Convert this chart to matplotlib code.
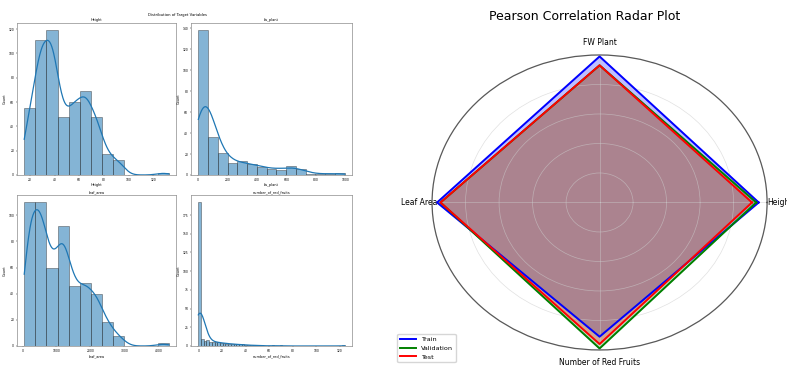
import numpy as np
import matplotlib
matplotlib.use('Agg')
import matplotlib.pyplot as plt

# ---- left panel: distribution of target variables (histogram counts per bin) ----
height_edges = np.linspace(15.4, 132.6, 14)
height_counts = [55, 111, 119, 48, 60, 69, 48, 17, 12, 0, 0, 0, 2]

fw_edges = np.linspace(2, 997, 16)
fw_counts = [138, 36, 21, 11, 13, 10, 8, 6, 5, 9, 6, 1, 1, 1, 2]

leaf_edges = np.linspace(50, 4307, 14)
leaf_counts = [110, 110, 60, 92, 46, 48, 40, 18, 8, 0, 0, 0, 2]

fruit_edges = np.linspace(0, 124, 55)
fruit_counts = [192, 10, 7, 8, 6, 6, 5, 5, 4, 4, 3, 3, 3, 2, 2, 2, 2, 1,
                1, 1, 1, 1, 0, 1, 0, 0, 0, 1, 0, 0, 1, 0, 0, 0, 0, 0,
                0, 0, 0, 0, 0, 0, 0, 0, 0, 0, 0, 0, 0, 0, 0, 0, 0, 1]

hist_names = ['Height', 'fw_plant', 'leaf_area', 'number_of_red_fruits']
hist_xticks = [[20, 40, 60, 80, 100, 120], [0, 200, 400, 600, 800, 1000],
               [0, 1000, 2000, 3000, 4000], [0, 20, 40, 60, 80, 100, 120]]
hist_yticks = [[0, 20, 40, 60, 80, 100, 120], [0, 20, 40, 60, 80, 100, 120, 140],
               [0, 20, 40, 60, 80, 100], [0, 25, 50, 75, 100, 125, 150, 175]]

# ---- right panel: pearson correlation radar ----
categories = ['Height', 'FW Plant', 'Leaf Area', 'Number of Red Fruits']
train = [0.95, 0.99, 0.97, 0.91]
validation = [0.935, 0.93, 0.95, 0.99]
test = [0.91, 0.93, 0.95, 0.96]


def kde_counts(edges, counts, x):
    # weighted gaussian kde (scott) on bin centres, scaled to counts
    c = (edges[:-1] + edges[1:]) / 2
    w = np.array(counts, dtype=float)
    n = w.sum()
    mu = (c * w).sum() / n
    sd = np.sqrt(((c - mu) ** 2 * w).sum() / n)
    h = sd * n ** (-0.2)
    d = (w[None, :] * np.exp(-0.5 * ((x[:, None] - c[None, :]) / h) ** 2)).sum(1)
    d = d / (n * h * np.sqrt(2 * np.pi))
    return d * n * (edges[1] - edges[0])


fig = plt.figure(figsize=(7.87, 3.68), dpi=100)

boxes = [[0.0216, 0.5245, 0.202, 0.413], [0.2427, 0.5245, 0.2046, 0.413],
         [0.0216, 0.0598, 0.202, 0.410], [0.2427, 0.0598, 0.2046, 0.410]]
all_edges = [height_edges, fw_edges, leaf_edges, fruit_edges]
all_counts = [height_counts, fw_counts, leaf_counts, fruit_counts]

fs = 2.5
for i in range(4):
    ax = fig.add_axes(boxes[i])
    e = all_edges[i]
    cts = all_counts[i]
    centers = (e[:-1] + e[1:]) / 2
    ax.hist(centers, bins=e, weights=cts, color='#1f77b4', alpha=0.55,
            edgecolor='#222222', linewidth=0.5)
    xs = np.linspace(e[0], e[-1], 300)
    ax.plot(xs, kde_counts(e, cts, xs), color='#1f77b4', lw=0.9)
    ax.set_xticks(hist_xticks[i])
    ax.set_yticks(hist_yticks[i])
    ax.set_ylim(0, max(cts) * 1.05)
    ax.set_title(hist_names[i], fontsize=fs, pad=1.5)
    ax.set_xlabel(hist_names[i], fontsize=fs, labelpad=1)
    ax.set_ylabel('Count', fontsize=fs, labelpad=1)
    ax.tick_params(labelsize=fs - 0.3, length=1, width=0.3, pad=1)
    for s in ax.spines.values():
        s.set_color('0.55')
        s.set_linewidth(0.5)

fig.text(178 / 787, 1 - 15 / 368, 'Distribution of Target Variables',
         fontsize=2.7, ha='center', va='center')

# radar
angles = np.linspace(0, 2 * np.pi, len(categories), endpoint=False).tolist()
angles += angles[:1]

rax = fig.add_axes([0.549, 0.049, 0.4257, 0.8016], projection='polar')
rax.set_aspect('auto')
for vals, col, lab in [(train, 'blue', 'Train'), (validation, 'green', 'Validation'),
                       (test, 'red', 'Test')]:
    v = vals + vals[:1]
    rax.plot(angles, v, color=col, linewidth=1.4, label=lab)
    rax.fill(angles, v, color=col, alpha=0.25)

rax.set_ylim(0, 1)
rax.set_yticks([0.2, 0.4, 0.6, 0.8, 1.0])
rax.set_yticklabels([])
rax.set_xticks(angles[:-1])
rax.set_xticklabels(categories, fontsize=5.5)
rax.tick_params(axis='x', pad=-1.5)
rax.grid(color='0.8', linewidth=0.5, alpha=0.6)
rax.spines['polar'].set_color('0.35')
rax.spines['polar'].set_linewidth(0.9)

fig.text(585 / 787, 1 - 17 / 368, 'Pearson Correlation Radar Plot',
         fontsize=9, ha='center', va='center')

h, l = rax.get_legend_handles_labels()
fig.legend(h, l, loc='lower left', bbox_to_anchor=(0.505, 0.016),
           bbox_transform=fig.transFigure, borderaxespad=0, fontsize=4.6,
           handlelength=2.5, fancybox=True)

fig.savefig('out.png', dpi=100)
